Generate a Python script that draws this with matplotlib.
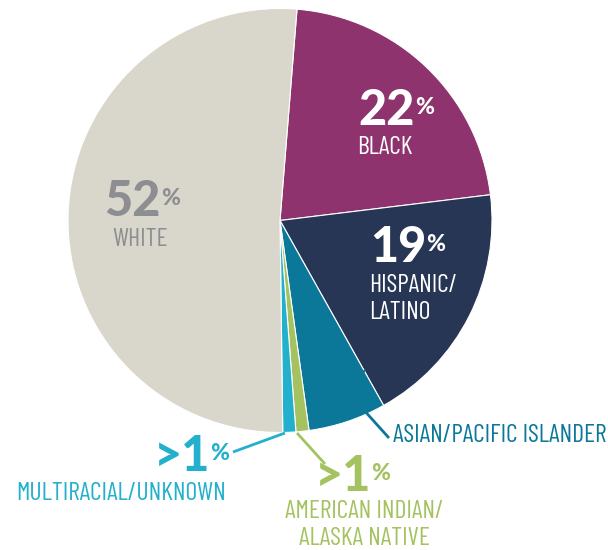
import matplotlib
matplotlib.use('Agg')
import matplotlib.pyplot as plt
from matplotlib import font_manager

# data
groups = ['BLACK', 'HISPANIC/\nLATINO', 'ASIAN/PACIFIC ISLANDER', 'AMERICAN INDIAN/\nALASKA NATIVE',
          'MULTIRACIAL/UNKNOWN', 'WHITE']
shares = [22, 19, 6, 1, 1, 52]
pct_labels = ['22', '19', '6', '>1', '>1', '52']
colors = ['#8E336E', '#283655', '#0B7899', '#A5C261', '#23B0CC', '#D9D7CB']
text_colors = ['white', 'white', '#0B7899', '#A5C261', '#23B0CC', '#8C8E92']

names = {f.name for f in font_manager.fontManager.ttflist}
num_font = 'Lato' if 'Lato' in names else 'DejaVu Sans'
lab_font = next((n for n in ['Barlow Condensed', 'Archivo Narrow', 'Roboto'] if n in names), 'DejaVu Sans')

W, H = 608, 550
fig = plt.figure(figsize=(W / 100, H / 100), dpi=100)
ax = fig.add_axes([0, 0, 1, 1])

cx, cy, r = 280, H - 220.5, 212
ax.pie(shares, colors=colors, startangle=85.4, counterclock=False,
       center=(cx, cy), radius=r, frame=True,
       wedgeprops=dict(edgecolor='white', linewidth=0.8))
ax.set_xlim(0, W)
ax.set_ylim(0, H)
ax.set_aspect('equal')
ax.axis('off')


def big_pct(x, y, num, color, size=35):
    # number right-aligned at x, small raised % to the right (pixel coords, y from top)
    ax.text(x, H - y, num, ha='right', va='baseline', fontsize=size,
            fontweight=900, family=num_font, color=color)
    ax.text(x, H - y + 11, '%', ha='left', va='baseline', fontsize=size * 0.47,
            fontweight=900, family=num_font, color=color)


def label(x, y, s, color, ha='center', size=18.5):
    ax.text(x, H - y, s, ha=ha, va='center', fontsize=size, family=lab_font,
            color=color, linespacing=1.2)


# BLACK
big_pct(415, 125, pct_labels[0], text_colors[0])
label(385, 148, groups[0], text_colors[0])
# HISPANIC
big_pct(426, 262, pct_labels[1], text_colors[1])
label(369, 299, groups[1], text_colors[1], ha='left')
# ASIAN
big_pct(348, 398, pct_labels[2], text_colors[2])
ax.plot([362, 389], [H - 408, H - 438], color=text_colors[2], lw=2, solid_capstyle='butt')
label(393, 436, groups[2], text_colors[2], ha='left')
# AMERICAN INDIAN
big_pct(371, 491, pct_labels[3], text_colors[3])
ax.plot([297, 325], [H - 433, H - 464], color=text_colors[3], lw=2, solid_capstyle='butt')
label(364, 525, groups[3], text_colors[3])
# MULTIRACIAL
big_pct(210, 471, pct_labels[4], text_colors[4])
ax.plot([285, 233], [H - 433, H - 452], color=text_colors[4], lw=2, solid_capstyle='butt')
label(121, 494, groups[4], text_colors[4])
# WHITE
big_pct(161, 216, pct_labels[5], text_colors[5])
label(140, 239, groups[5], text_colors[5])

fig.savefig('out.png', dpi=100, facecolor='white')
